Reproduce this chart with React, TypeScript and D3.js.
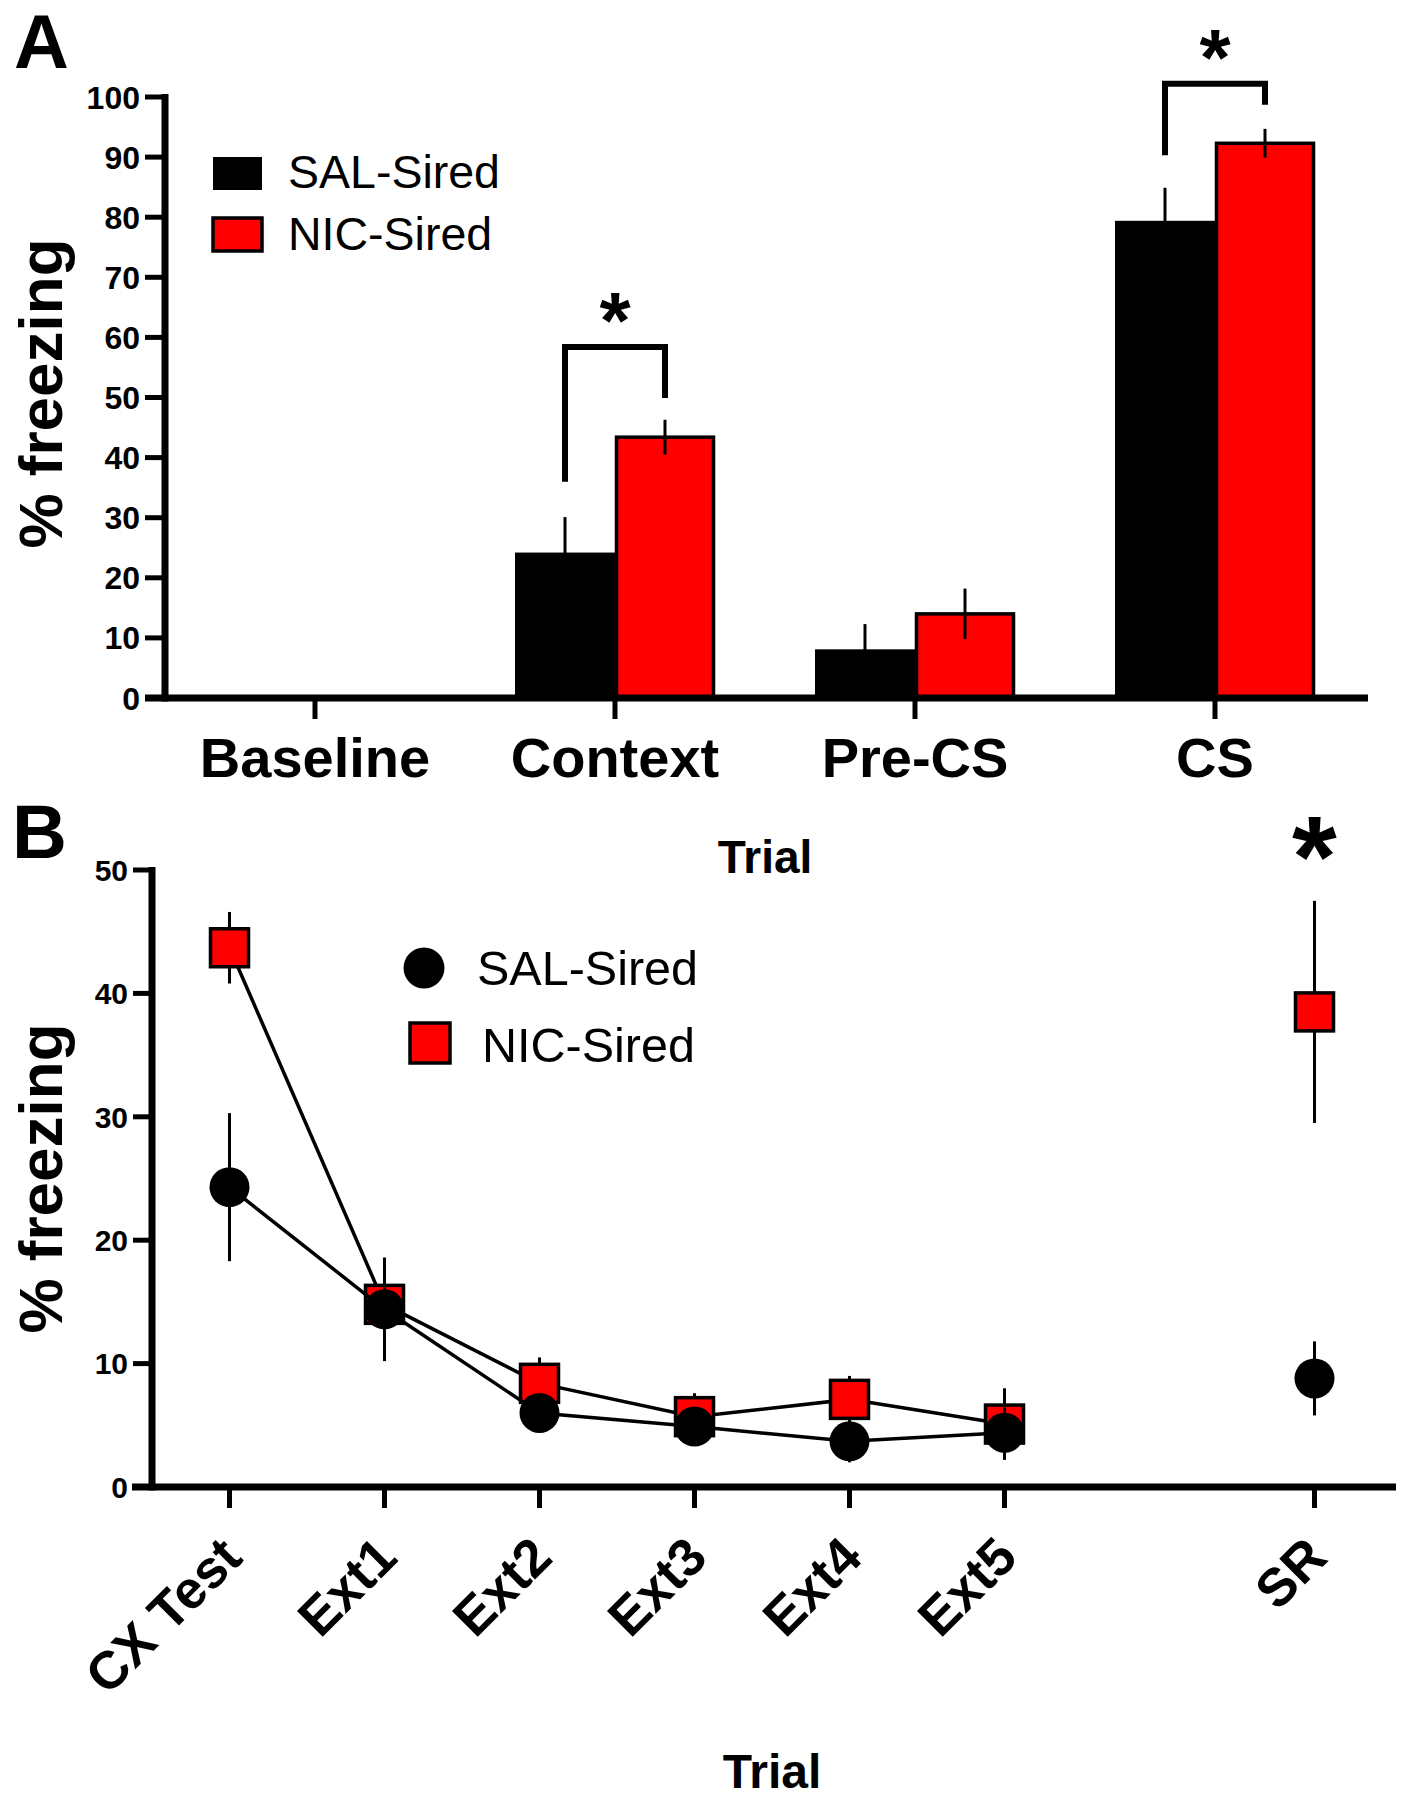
import React from 'react';
import * as d3 from 'd3';

// ---------- Panel A data ----------
const categoriesA = ['Baseline', 'Context', 'Pre-CS', 'CS'];
const seriesNames = ['SAL-Sired', 'NIC-Sired'];
const salA = [0, 24.2, 8.1, 79.4];
const salAErr = [0, 5.9, 4.2, 5.5];
const nicA = [0, 43.4, 14.0, 92.3];
const nicAErr = [0, 2.9, 4.2, 2.4];
const yTicksA = [0, 10, 20, 30, 40, 50, 60, 70, 80, 90, 100];
// significance brackets: category, top value, left leg end, right leg end
const bracketCats = ['Context', 'CS'];
const bracketTops = [58.4, 102.2];
const bracketLeftEnds = [36.0, 90.3];
const bracketRightEnds = [49.9, 98.7];

// ---------- Panel B data ----------
const trialsB = ['CX Test', 'Ext1', 'Ext2', 'Ext3', 'Ext4', 'Ext5', 'SR'];
const trialPosB = [0, 1, 2, 3, 4, 5, 7];
const salB = [24.3, 14.4, 6.0, 4.9, 3.7, 4.4, 8.8];
const salBErr = [6.0, 4.2, 0.8, 0.9, 1.7, 2.1, 3.0];
const nicB = [43.7, 14.8, 8.4, 5.7, 7.1, 5.1, 38.5];
const nicBErr = [2.9, 3.0, 2.1, 1.9, 1.9, 2.9, 9.0];
const yTicksB = [0, 10, 20, 30, 40, 50];
const starTrialB = 'SR';
const starValueB = 52.4;

const FONT = '"Liberation Sans", Arial, Helvetica, sans-serif';
const RED = '#FF0000';

export default function App() {
  // ----- Panel A scales -----
  const yA = d3.scaleLinear().domain([0, 100]).range([698, 97]);
  const xA = d3
    .scaleBand<string>()
    .domain(categoriesA)
    .range([165, 1365])
    .paddingInner(1 / 3)
    .paddingOuter(1 / 6);
  const xSub = d3.scaleBand<string>().domain(seriesNames).range([0, xA.bandwidth()]);
  const axisStroke = 7;

  // ----- Panel B scales -----
  const yB = d3.scaleLinear().domain([0, 50]).range([1487, 870]);
  const xB = d3.scaleLinear().domain([-0.5, 7.5]).range([152, 1392]);
  const lineB = d3
    .line<number>()
    .x((_, i) => xB(trialPosB[i]))
    .y((d) => d);

  const seriesA = [
    { name: seriesNames[0], vals: salA, errs: salAErr, fill: '#000' },
    { name: seriesNames[1], vals: nicA, errs: nicAErr, fill: RED },
  ];

  const lineIdx = [0, 1, 2, 3, 4, 5];
  const salLine = lineB(lineIdx.map((i) => yB(salB[i])));
  const nicLine = lineB(lineIdx.map((i) => yB(nicB[i])));

  return (
    <svg
      width={1408}
      height={1800}
      style={{ position: 'absolute', left: 0, top: 0, background: '#fff' }}
      fontFamily={FONT}
    >
      <rect x={0} y={0} width={1408} height={1800} fill="#fff" />

      {/* ================= PANEL A ================= */}
      <text x={14} y={68} fontSize={76} fontWeight="bold">A</text>

      {/* bars */}
      {seriesA.map((s) =>
        categoriesA.map((c, i) => {
          const x0 = (xA(c) as number) + (xSub(s.name) as number);
          const w = xSub.bandwidth();
          const v = s.vals[i];
          if (v <= 0) return null;
          return (
            <g key={s.name + c}>
              <rect
                x={x0 + (s.fill === RED ? 1.5 : 0)}
                y={yA(v)}
                width={w - (s.fill === RED ? 3 : 0)}
                height={yA(0) - yA(v)}
                fill={s.fill}
                stroke="#000"
                strokeWidth={s.fill === RED ? 3.5 : 0}
              />
              <line
                x1={x0 + w / 2}
                x2={x0 + w / 2}
                y1={yA(v + s.errs[i])}
                y2={yA(Math.max(0, v - s.errs[i]))}
                stroke="#000"
                strokeWidth={3}
              />
            </g>
          );
        })
      )}

      {/* brackets */}
      {bracketCats.map((c, i) => {
        const xl = (xA(c) as number) + (xSub(seriesNames[0]) as number) + xSub.bandwidth() / 2;
        const xr = (xA(c) as number) + (xSub(seriesNames[1]) as number) + xSub.bandwidth() / 2;
        const yt = yA(bracketTops[i]);
        return (
          <g key={'br' + c}>
            <path
              d={`M${xl},${yA(bracketLeftEnds[i])}V${yt}H${xr}V${yA(bracketRightEnds[i])}`}
              fill="none"
              stroke="#000"
              strokeWidth={6}
            />
            <text x={(xl + xr) / 2} y={yt + 1} fontSize={80} fontWeight="bold" textAnchor="middle">
              *
            </text>
          </g>
        );
      })}

      {/* y axis A */}
      <line x1={165} x2={165} y1={yA(100) - 3} y2={yA(0) + axisStroke / 2} stroke="#000" strokeWidth={axisStroke} />
      {yTicksA.map((t) => (
        <g key={'ya' + t}>
          <line x1={145} x2={165} y1={yA(t)} y2={yA(t)} stroke="#000" strokeWidth={5} />
          <text x={140} y={yA(t)} dy="0.36em" fontSize={32} fontWeight="bold" textAnchor="end">
            {t}
          </text>
        </g>
      ))}
      {/* x axis A */}
      <line x1={145} x2={1368} y1={yA(0)} y2={yA(0)} stroke="#000" strokeWidth={axisStroke} />
      {categoriesA.map((c) => {
        const cx = (xA(c) as number) + xA.bandwidth() / 2;
        return (
          <g key={'xa' + c}>
            <line x1={cx} x2={cx} y1={yA(0)} y2={yA(0) + 21} stroke="#000" strokeWidth={5} />
            <text x={cx} y={777} fontSize={56} fontWeight="bold" textAnchor="middle">
              {c}
            </text>
          </g>
        );
      })}
      <text x={765} y={873} fontSize={46} fontWeight="bold" textAnchor="middle">Trial</text>
      <text
        transform={`translate(62,${yA(50) - 4}) rotate(-90)`}
        fontSize={62}
        fontWeight="bold"
        textAnchor="middle"
      >
        % freezing
      </text>

      {/* legend A */}
      {seriesA.map((s, i) => (
        <g key={'lga' + s.name}>
          <rect
            x={213}
            y={157 + i * 61}
            width={49}
            height={33}
            fill={s.fill}
            stroke="#000"
            strokeWidth={s.fill === RED ? 3.5 : 0}
          />
          <text x={288} y={188 + i * 62} fontSize={46.5}>
            {s.name}
          </text>
        </g>
      ))}

      {/* ================= PANEL B ================= */}
      <text x={12} y={858} fontSize={76} fontWeight="bold">B</text>

      {/* NIC series */}
      {trialPosB.map((p, i) => (
        <line
          key={'nerr' + i}
          x1={xB(p)}
          x2={xB(p)}
          y1={yB(nicB[i] + nicBErr[i])}
          y2={yB(nicB[i] - nicBErr[i])}
          stroke="#000"
          strokeWidth={3}
        />
      ))}
      <path d={nicLine || ''} fill="none" stroke="#000" strokeWidth={3.5} />
      {trialPosB.map((p, i) => (
        <rect
          key={'nsq' + i}
          x={xB(p) - 19}
          y={yB(nicB[i]) - 19}
          width={38}
          height={38}
          fill={RED}
          stroke="#000"
          strokeWidth={3.5}
        />
      ))}

      {/* SAL series */}
      {trialPosB.map((p, i) => (
        <line
          key={'serr' + i}
          x1={xB(p)}
          x2={xB(p)}
          y1={yB(salB[i] + salBErr[i])}
          y2={yB(salB[i] - salBErr[i])}
          stroke="#000"
          strokeWidth={3}
        />
      ))}
      <path d={salLine || ''} fill="none" stroke="#000" strokeWidth={3.5} />
      {trialPosB.map((p, i) => (
        <circle key={'sc' + i} cx={xB(p)} cy={yB(salB[i])} r={20} fill="#000" />
      ))}

      {/* star at SR */}
      <text
        x={xB(trialPosB[trialsB.indexOf(starTrialB)])}
        y={yB(starValueB) + 0.48 * 115}
        fontSize={115}
        fontWeight="bold"
        textAnchor="middle"
      >
        *
      </text>

      {/* y axis B */}
      <line x1={152} x2={152} y1={yB(50) - 3} y2={yB(0) + axisStroke / 2} stroke="#000" strokeWidth={axisStroke} />
      {yTicksB.map((t) => (
        <g key={'yb' + t}>
          <line x1={133} x2={152} y1={yB(t)} y2={yB(t)} stroke="#000" strokeWidth={5} />
          <text x={128} y={yB(t)} dy="0.36em" fontSize={30} fontWeight="bold" textAnchor="end">
            {t}
          </text>
        </g>
      ))}
      {/* x axis B */}
      <line x1={132} x2={1396} y1={yB(0)} y2={yB(0)} stroke="#000" strokeWidth={axisStroke} />
      {trialsB.map((t, i) => {
        const cx = xB(trialPosB[i]);
        return (
          <g key={'xb' + t}>
            <line x1={cx} x2={cx} y1={yB(0)} y2={yB(0) + 21} stroke="#000" strokeWidth={5} />
            <text
              transform={`translate(${cx + 15},1560) rotate(-45)`}
              fontSize={53}
              fontWeight="bold"
              textAnchor="end"
            >
              {t}
            </text>
          </g>
        );
      })}
      <text x={772} y={1788} fontSize={48} fontWeight="bold" textAnchor="middle">Trial</text>
      <text
        transform={`translate(62,${yB(25)}) rotate(-90)`}
        fontSize={62}
        fontWeight="bold"
        textAnchor="middle"
      >
        % freezing
      </text>

      {/* legend B */}
      <circle cx={424} cy={968} r={20.5} fill="#000" />
      <text x={477} y={985} fontSize={48.5}>{seriesNames[0]}</text>
      <rect x={410} y={1023} width={40} height={40} fill={RED} stroke="#000" strokeWidth={3.5} />
      <text x={482} y={1062} fontSize={48.5}>{seriesNames[1]}</text>
    </svg>
  );
}
